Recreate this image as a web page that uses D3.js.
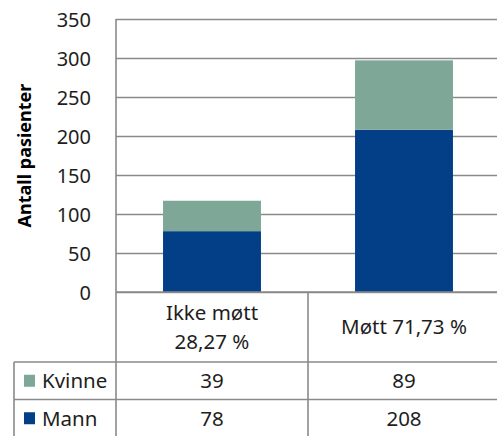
<!DOCTYPE html>
<html>
<head>
<meta charset="utf-8">
<script src="https://cdn.jsdelivr.net/npm/d3@7/dist/d3.min.js"></script>
<style>
  html, body { margin: 0; padding: 0; background: #fff; }
  svg { display: block; font-family: "Noto Sans", sans-serif; }
</style>
</head>
<body>
<svg id="chart" width="497" height="436"></svg>
<script>
// Patients who attended / did not attend, split by sex
const categories = ["Ikke møtt\n28,27 %", "Møtt 71,73 %"];
const seriesNames = ["Mann", "Kvinne"];
const mann = [78, 208];
const kvinne = [39, 89];
const yTicks = [0, 50, 100, 150, 200, 250, 300, 350];
const yTitle = "Antall pasienter";
const colors = { Mann: "#033F86", Kvinne: "#7EA798" };

const svg = d3.select("#chart");
const gridColor = "#8a8a8a";
const textColor = "#1e1e1e";

const plotLeft = 116, plotRight = 500, plotTop = 19, plotBottom = 292;
const headerBottom = 362, rowH = 37.5, tableLeft = 14;

const x = d3.scaleBand().domain(categories).range([plotLeft, plotRight]).padding(0);
const y = d3.scaleLinear().domain([0, 350]).range([plotBottom, plotTop]);
const barW = x.bandwidth() * 0.51;

// Gridlines and tick labels
const yAxis = d3.axisLeft(y).tickValues(yTicks).tickSize(-(plotRight - plotLeft)).tickPadding(25);
const gy = svg.append("g").attr("transform", `translate(${plotLeft},0)`).call(yAxis);
gy.select(".domain").remove();
gy.selectAll(".tick line").attr("stroke", gridColor).attr("stroke-width", 1.6);
gy.selectAll(".tick text")
  .attr("fill", textColor)
  .attr("font-size", 20)
  .attr("font-family", "'Noto Sans', sans-serif")
  .attr("dy", "0.35em");

// Stacked bars
const rows = categories.map((c, i) => ({ cat: c, Mann: mann[i], Kvinne: kvinne[i] }));
const stack = d3.stack().keys(seriesNames)(rows);
svg.append("g").selectAll("g")
  .data(stack).join("g")
  .attr("fill", d => colors[d.key])
  .selectAll("rect")
  .data(d => d).join("rect")
  .attr("x", d => x(d.data.cat) + (x.bandwidth() - barW) / 2)
  .attr("width", barW)
  .attr("y", d => y(d[1]))
  .attr("height", d => y(d[0]) - y(d[1]));

// Data table lines
const tableBottom = headerBottom + rowH * 2;
const lines = svg.append("g").attr("stroke", gridColor).attr("stroke-width", 1.6);
lines.append("line").attr("x1", plotLeft).attr("x2", plotLeft).attr("y1", plotTop).attr("y2", tableBottom + 2);
lines.append("line").attr("x1", plotLeft).attr("x2", plotRight).attr("y1", y(0)).attr("y2", y(0));
categories.slice(1).forEach(c => {
  lines.append("line").attr("x1", x(c)).attr("x2", x(c)).attr("y1", y(0)).attr("y2", tableBottom + 2);
});
lines.append("line").attr("x1", tableLeft).attr("x2", tableLeft).attr("y1", headerBottom).attr("y2", tableBottom + 2);
[0, 1].forEach(i => {
  lines.append("line").attr("x1", tableLeft).attr("x2", plotRight)
    .attr("y1", headerBottom + rowH * i).attr("y2", headerBottom + rowH * i);
});

// Category headers
categories.forEach(c => {
  const parts = c.split("\n");
  const cx = x(c) + x.bandwidth() / 2;
  const lineGap = 28.5;
  const midY = (y(0) + headerBottom) / 2;
  const t = svg.append("text")
    .attr("text-anchor", "middle")
    .attr("fill", textColor)
    .attr("font-size", 20.5);
  parts.forEach((p, k) => {
    const base = midY + 7.3 + (k - (parts.length - 1) / 2) * lineGap;
    t.append("tspan").attr("x", cx).attr("y", base).text(p);
  });
});

// Table rows: legend key + values
const tableRows = [
  { name: "Kvinne", values: kvinne },
  { name: "Mann", values: mann }
];
tableRows.forEach((r, i) => {
  const top = headerBottom + rowH * i;
  const cy = top + rowH / 2;
  svg.append("rect")
    .attr("x", 24).attr("y", cy - 6).attr("width", 11).attr("height", 12)
    .attr("fill", colors[r.name]);
  svg.append("text")
    .attr("x", 42).attr("y", cy + 7.3)
    .attr("fill", textColor).attr("font-size", 20.5)
    .text(r.name);
  r.values.forEach((v, j) => {
    svg.append("text")
      .attr("x", x(categories[j]) + x.bandwidth() / 2)
      .attr("y", cy + 7.3)
      .attr("text-anchor", "middle")
      .attr("fill", textColor).attr("font-size", 20.5)
      .text(v);
  });
});

// Y-axis title
svg.append("text")
  .attr("transform", `translate(31,${(plotTop + plotBottom) / 2}) rotate(-90)`)
  .attr("text-anchor", "middle")
  .attr("font-weight", "bold")
  .attr("font-size", 18)
  .attr("fill", "#000")
  .text(yTitle);
</script>
</body>
</html>
